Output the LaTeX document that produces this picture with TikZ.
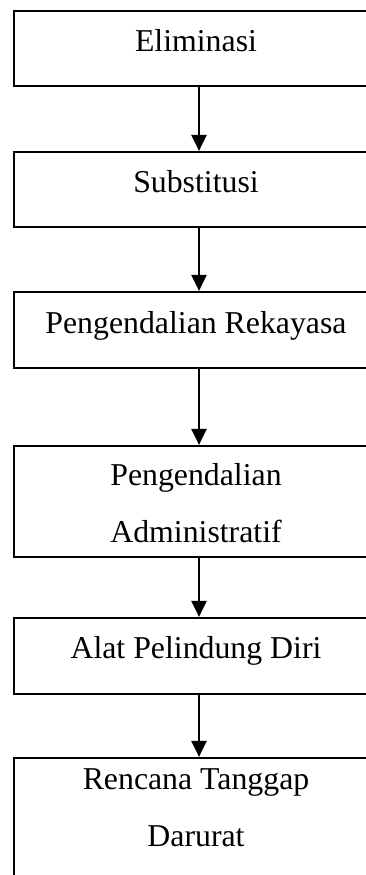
\documentclass[tikz,border=0pt]{standalone}
\usepackage{fontspec}
\setmainfont{Liberation Serif}
\usetikzlibrary{arrows.meta}
\begin{document}
\begin{tikzpicture}[x=1pt,y=-1pt,
  box/.style={draw=black, line width=2.2pt, rectangle, inner sep=0pt, minimum width=370pt},
  lbl/.style={anchor=base, inner sep=0pt, font=\fontsize{31.8}{38}\selectfont},
  arr/.style={line width=2.4pt, -{Triangle[length=16pt,width=15pt]}}]
\useasboundingbox (0,0) rectangle (366,875);
\clip (0,0) rectangle (366,875);
\fill[white] (0,0) rectangle (366,875);
\node[box, minimum height=75pt] (b1) at (199,48.5) {};
\node[box, minimum height=75pt] (b2) at (199,189.5) {};
\node[box, minimum height=76pt] (b3) at (199,330) {};
\node[box, minimum height=111pt] (b4) at (199,501.5) {};
\node[box, minimum height=76pt] (b5) at (199,656) {};
\node[box, minimum height=160pt] (b6) at (199,838) {};
\node[lbl] (t1) at (196,52) {Eliminasi};
\node[lbl] (t2) at (196,192) {Substitusi};
\node[lbl] (t3) at (196,333) {Pengendalian Rekayasa};
\node[lbl] (t4a) at (196,485) {Pengendalian};
\node[lbl] (t4b) at (196,542) {Administratif};
\node[lbl] (t5) at (196,658) {Alat Pelindung Diri};
\node[lbl] (t6a) at (196,789) {Rencana Tanggap};
\node[lbl] (t6b) at (196,846) {Darurat};
\draw[arr] (b1.south) -- (b2.north);
\draw[arr] (b2.south) -- (b3.north);
\draw[arr] (b3.south) -- (b4.north);
\draw[arr] (b4.south) -- (b5.north);
\draw[arr] (b5.south) -- (b6.north);
\end{tikzpicture}
\end{document}
